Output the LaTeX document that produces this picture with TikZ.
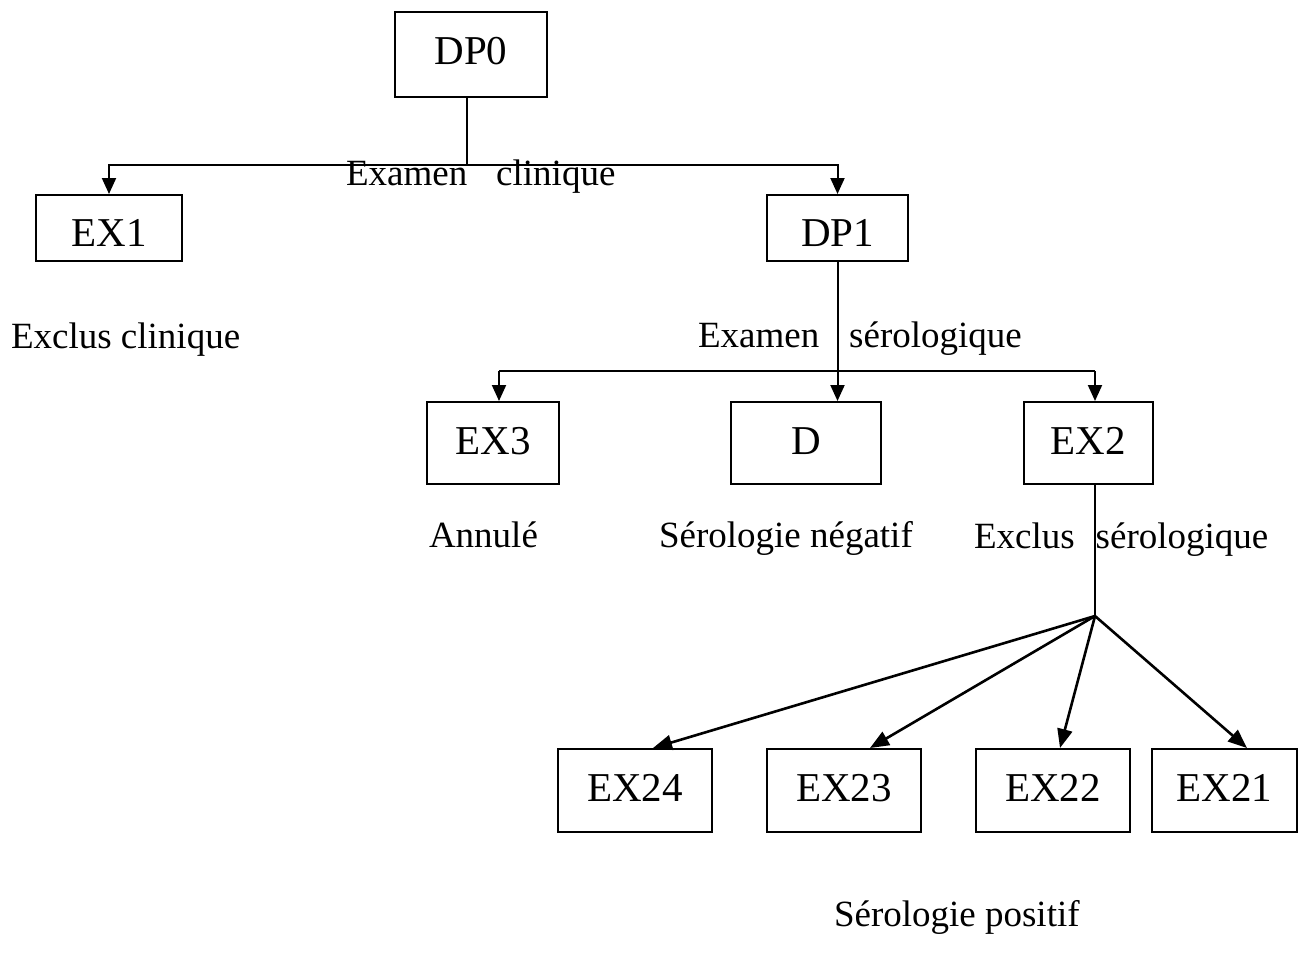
\documentclass[tikz,border=0pt]{standalone}
\usepackage{fontspec}
\setmainfont{Liberation Serif}
\usetikzlibrary{arrows.meta}

\begin{document}
\begin{tikzpicture}[x=1pt,y=-1pt,
    line width=2pt,
    box/.style={draw, rectangle, inner sep=0pt, text height=40pt,
                font=\fontsize{41}{49}\selectfont},
    lbl/.style={anchor=base west, inner sep=0pt,
                font=\fontsize{37}{44}\selectfont},
    arr/.style={-{Triangle[length=16pt,width=14pt]}},
    fan/.style={line width=2.6pt, -{Triangle[length=19pt,width=15pt]}}]

\useasboundingbox (0,0) rectangle (1305,958);

% decision / exclusion boxes
\node[box, minimum width=152pt, minimum height=85pt, text depth=21pt] (dp0) at (471,54.5) {DP0};
\node[box, minimum width=146pt, minimum height=66pt, text depth=2.5pt] (ex1) at (109,228) {EX1};
\node[box, minimum width=141pt, minimum height=66pt, text depth=2.5pt] (dp1) at (837.5,228) {DP1};
\node[box, minimum width=132pt, minimum height=82pt, text depth=18pt] (ex3) at (493,443) {EX3};
\node[box, minimum width=150pt, minimum height=82pt, text depth=18pt] (d)   at (806,443) {D};
\node[box, minimum width=129pt, minimum height=82pt, text depth=18pt] (ex2) at (1088.5,443) {EX2};
\node[box, minimum width=154pt, minimum height=83pt, text depth=19pt] (ex24) at (635,790.5) {EX24};
\node[box, minimum width=154pt, minimum height=83pt, text depth=19pt] (ex23) at (844,790.5) {EX23};
\node[box, minimum width=154pt, minimum height=83pt, text depth=19pt] (ex22) at (1053,790.5) {EX22};
\node[box, minimum width=145pt, minimum height=83pt, text depth=19pt] (ex21) at (1224.5,790.5) {EX21};

% labels
\node[lbl] (l1) at (345,185) {Examen\hspace{29pt}clinique};
\node[lbl] (l2) at (10,348) {Exclus clinique};
\node[lbl] (l3) at (697,347) {Examen\hspace{30pt}sérologique};
\node[lbl] (l4) at (428,547) {Annulé};
\node[lbl] (l5) at (658,547) {Sérologie négatif};
\node[lbl] (l6) at (973,548) {Exclus\hspace{21pt}sérologique};
\node[lbl] (l7) at (833,926) {Sérologie positif};

% junction points
\coordinate (j1) at (467,165);
\coordinate (j2) at (837.5,371);
\coordinate (a3) at (499,371);
\coordinate (a2) at (1095,371);
\coordinate (f)  at (1095,616);

% clinical examination
\draw (j1 |- dp0.south) -- (j1);
\draw[arr] (j1) -| (ex1);
\draw[arr] (j1) -| (dp1);

% serological examination
\draw[arr] (dp1.south) -- (dp1.south |- d.north);
\draw (a3) -- (a2);
\draw[arr] (a3) -- (a3 |- ex3.north);
\draw[arr] (a2) -- (a2 |- ex2.north);

% serological exclusion fan
\draw (f |- ex2.south) -- (f);
\draw[fan] (f) -- (653,0 |- ex24.north);
\draw[fan] (f) -- (870,0 |- ex23.north);
\draw[fan] (f) -- (1060,0 |- ex22.north);
\draw[fan] (f) -- (1247,0 |- ex21.north);
\end{tikzpicture}
\end{document}
